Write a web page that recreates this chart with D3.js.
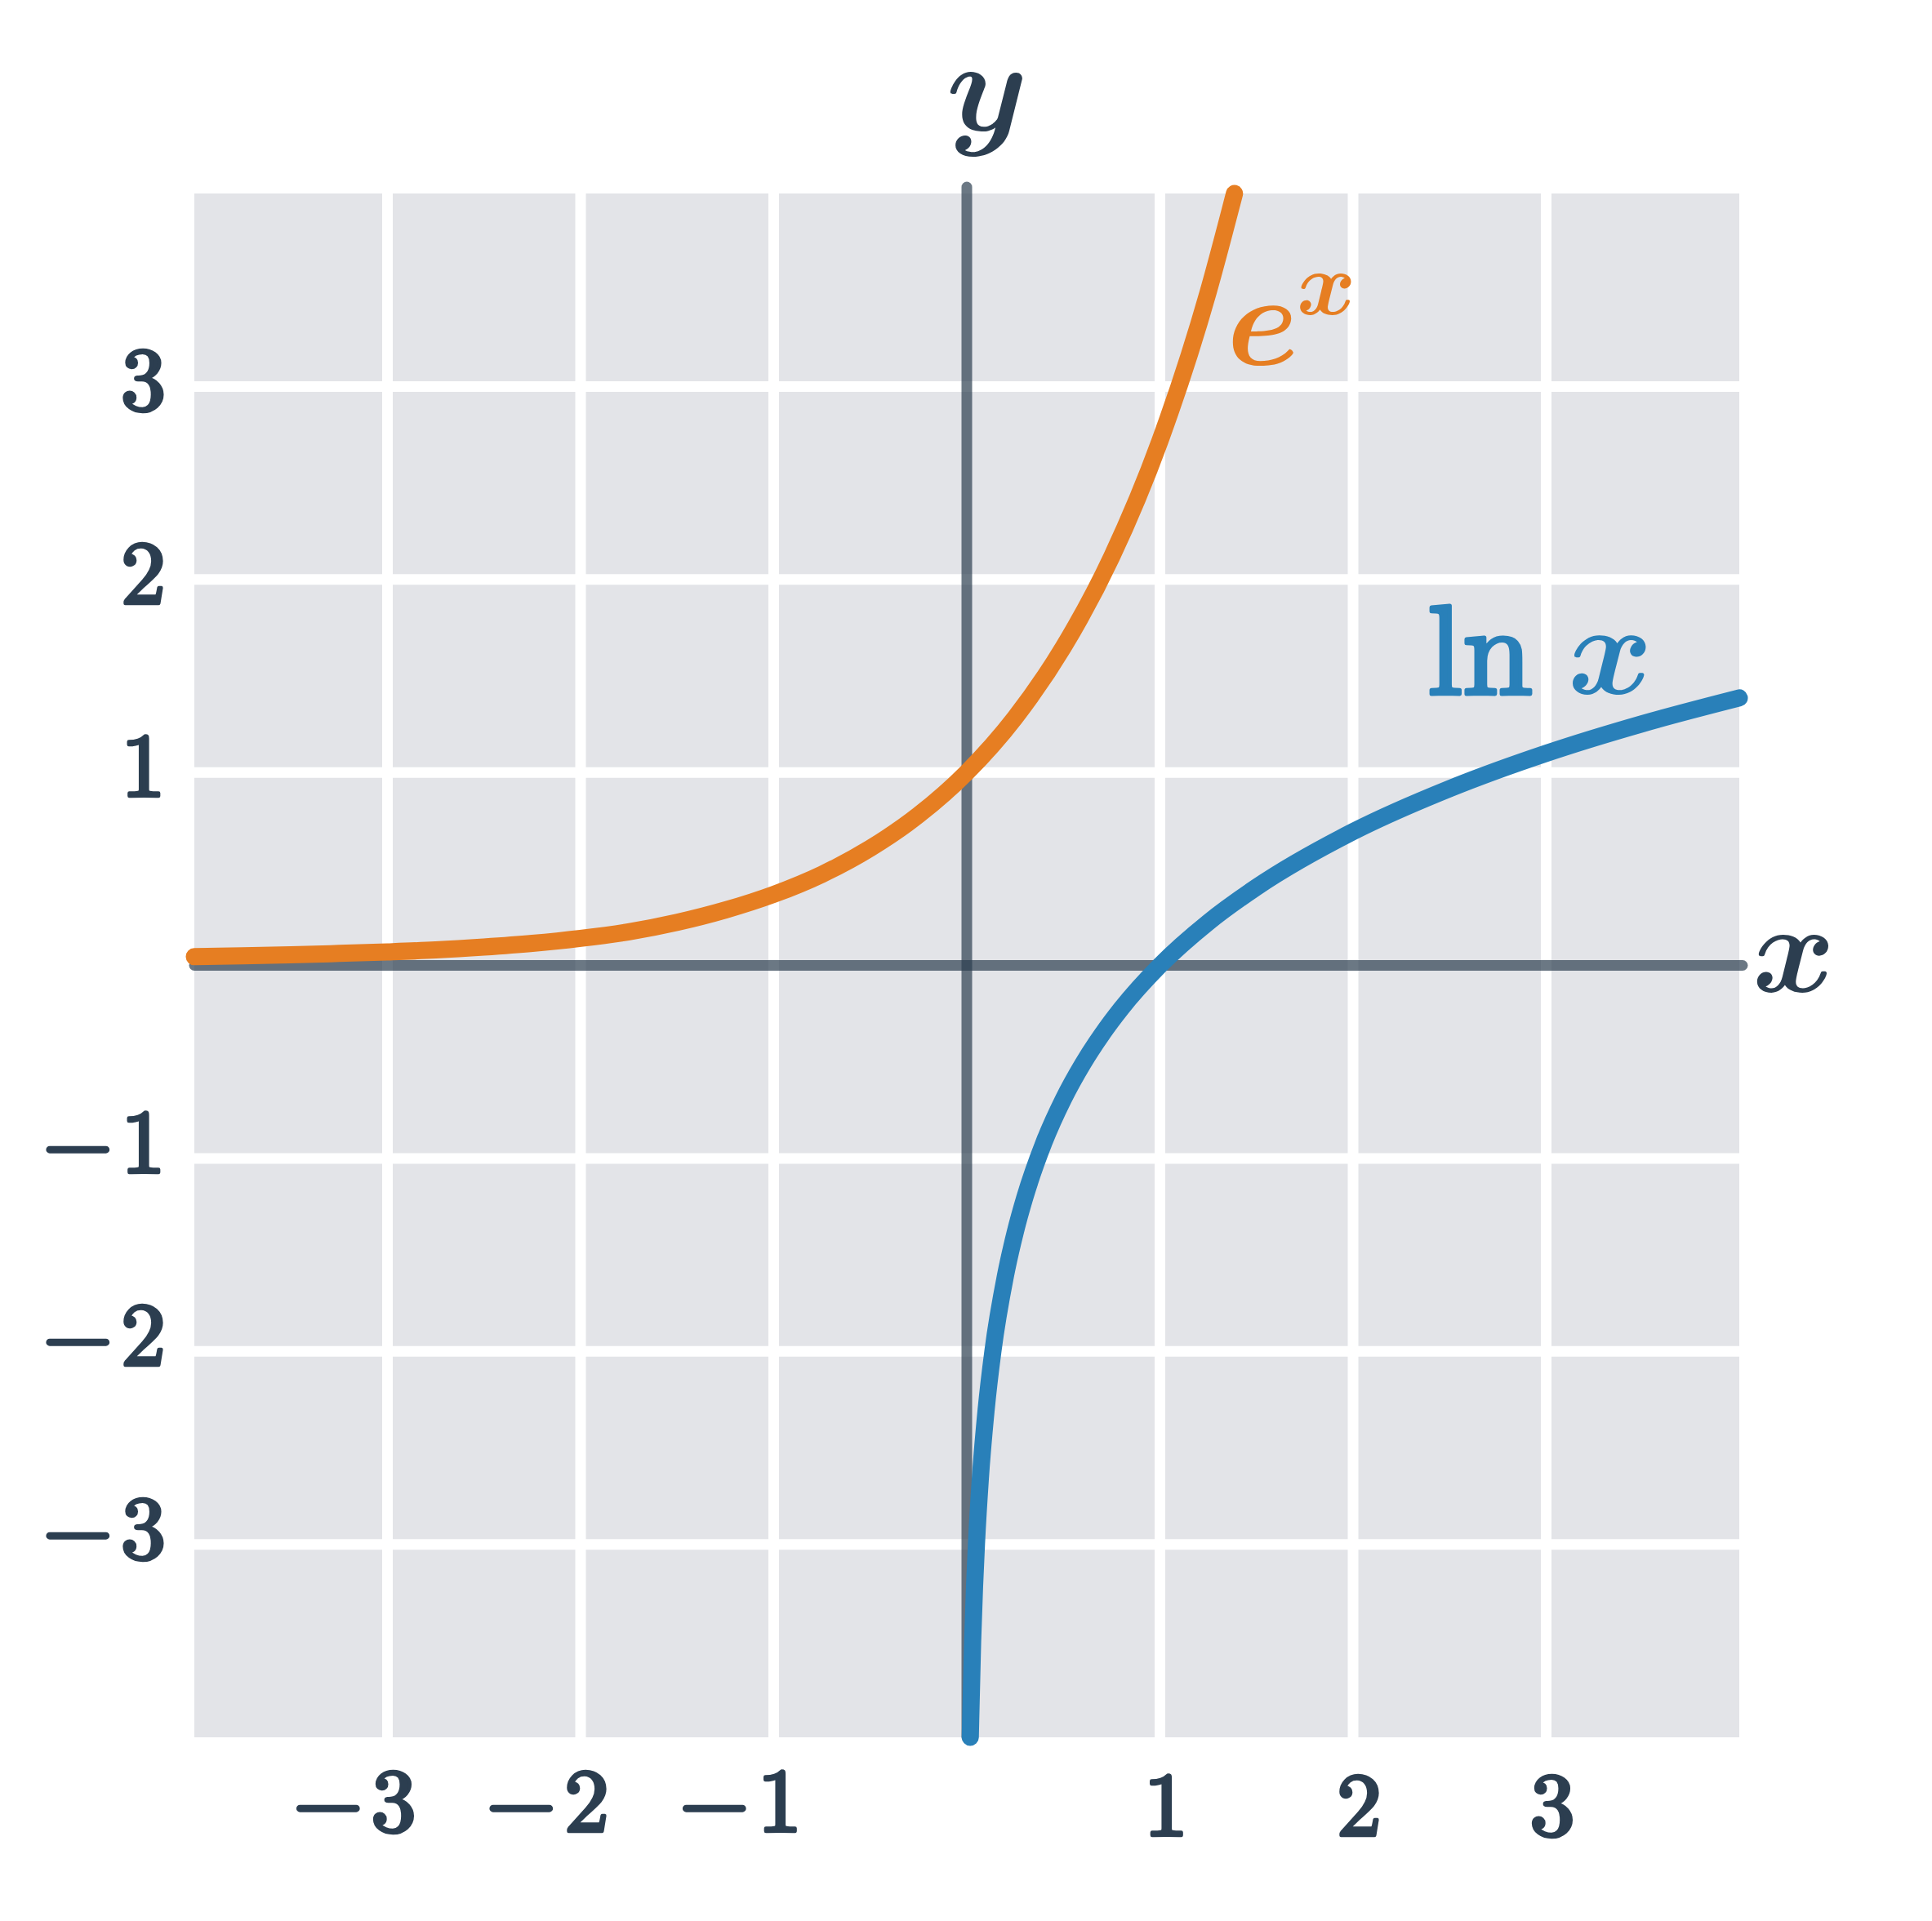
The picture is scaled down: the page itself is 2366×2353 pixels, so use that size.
<!DOCTYPE html>
<html>
<head>
<meta charset="utf-8">
<script src="https://cdn.jsdelivr.net/npm/d3@7/dist/d3.min.js"></script>
<style>
body{margin:0;background:#fff;}
svg text{font-family:"Latin Modern Math","Liberation Serif",serif;}
</style>
</head>
<body>
<svg id="chart" width="2366" height="2353"></svg>
<script>
// tick values
var xTicks = [-3,-2,-1,1,2,3];
var yTicks = [-3,-2,-1,1,2,3];

// e^x
var expX = [-4,-3.75,-3.5,-3.25,-3,-2.75,-2.5,-2.25,-2,-1.75,-1.5,-1.25,-1,-0.75,-0.5,-0.25,0,0.25,0.5,0.75,1,1.25,1.386];
var expY = [0.045,0.05,0.055,0.062,0.07,0.08,0.095,0.114,0.14,0.174,0.223,0.287,0.368,0.472,0.607,0.779,1,1.284,1.649,2.117,2.718,3.49,4];

// ln x
var lnX = [0.018,0.02,0.03,0.04,0.05,0.07,0.1,0.135,0.2,0.25,0.3,0.4,0.5,0.6,0.7,0.8,1,1.25,1.5,2,2.5,3,3.5,4];
var lnY = [-4,-3.912,-3.507,-3.219,-2.996,-2.659,-2.303,-2,-1.609,-1.386,-1.204,-0.916,-0.693,-0.511,-0.357,-0.223,0,0.223,0.405,0.693,0.916,1.099,1.253,1.386];

var ink = "#2c3e50";
var orange = "#e67e22";
var blue = "#2980b9";

var svg = d3.select("#chart");

var x = d3.scaleLinear().domain([-4,4]).range([238,2130]);
var y = d3.scaleLinear().domain([-4,4]).range([2128,237]);

svg.append("rect")
    .attr("x",x(-4))
    .attr("y",y(4))
    .attr("width",x(4)-x(-4))
    .attr("height",y(-4)-y(4))
    .attr("fill","#e3e4e8");

// white grid
svg.selectAll("line.vgrid")
    .data(xTicks)
    .enter()
     .append("line")
      .attr("class","vgrid")
      .attr("x1",function(d){return x(d);})
      .attr("x2",function(d){return x(d);})
      .attr("y1",y(4))
      .attr("y2",y(-4))
      .attr("stroke","#fff")
      .attr("stroke-width",13);

svg.selectAll("line.hgrid")
    .data(yTicks)
    .enter()
     .append("line")
      .attr("class","hgrid")
      .attr("y1",function(d){return y(d);})
      .attr("y2",function(d){return y(d);})
      .attr("x1",x(-4))
      .attr("x2",x(4))
      .attr("stroke","#fff")
      .attr("stroke-width",13);

// axes
svg.append("line")
    .attr("x1",x(-4)).attr("x2",x(4)+4)
    .attr("y1",y(0)).attr("y2",y(0))
    .attr("stroke",ink).attr("stroke-opacity",0.7)
    .attr("stroke-width",13).attr("stroke-linecap","round");

svg.append("line")
    .attr("x1",x(0)).attr("x2",x(0))
    .attr("y1",y(4)-8).attr("y2",y(-4))
    .attr("stroke",ink).attr("stroke-opacity",0.7)
    .attr("stroke-width",13).attr("stroke-linecap","round");

// curves
var line = d3.line()
    .x(function(d){return x(d[0]);})
    .y(function(d){return y(d[1]);})
    .curve(d3.curveMonotoneX);

svg.append("path")
    .attr("d",line(d3.zip(expX,expY)))
    .attr("fill","none")
    .attr("stroke",orange)
    .attr("stroke-width",21)
    .attr("stroke-linecap","round")
    .attr("stroke-linejoin","round");

svg.append("path")
    .attr("d",line(d3.zip(lnX,lnY)))
    .attr("fill","none")
    .attr("stroke",blue)
    .attr("stroke-width",21)
    .attr("stroke-linecap","round")
    .attr("stroke-linejoin","round");

// tick labels, thickened a bit with a stroke
function tickText(sel){
    sel.each(function(d){
        var t = d3.select(this);
        if(d < 0){
            t.append("tspan").text("\u2212");
            t.append("tspan").attr("dx",10).text(Math.abs(d));
        }else{
            t.append("tspan").text(d);
        }
    });
}

svg.selectAll("text.xtick")
    .data(xTicks)
    .enter()
     .append("text")
      .attr("class","xtick")
      .attr("x",function(d){return x(d)+35;})
      .attr("y",function(d){return d < 0 ? 2243 : 2248;})
      .attr("text-anchor","end")
      .attr("font-size",110)
      .attr("fill",ink)
      .attr("stroke",ink)
      .attr("stroke-width",4.5)
      .attr("stroke-linejoin","round")
      .call(tickText);

svg.selectAll("text.ytick")
    .data(yTicks)
    .enter()
     .append("text")
      .attr("class","ytick")
      .attr("x",203)
      .attr("y",function(d){return y(d) + (d < 0 ? 17 : 29);})
      .attr("text-anchor","end")
      .attr("font-size",110)
      .attr("fill",ink)
      .attr("stroke",ink)
      .attr("stroke-width",4.5)
      .attr("stroke-linejoin","round")
      .call(tickText);

// axis names (math bold italic letters)
svg.append("text")
    .attr("x",1206).attr("y",160)
    .attr("text-anchor","middle")
    .attr("font-size",160)
    .attr("fill",ink)
    .text("\u{1D49A}");

svg.append("text")
    .attr("x",2146).attr("y",1215)
    .attr("font-size",154)
    .attr("fill",ink)
    .text("\u{1D499}");

// curve labels
var eLabel = svg.append("text")
    .attr("x",1502).attr("y",447)
    .attr("font-size",160)
    .attr("fill",orange);
eLabel.append("tspan").text("\u{1D486}");
eLabel.append("tspan").attr("x",1588).attr("y",385).attr("font-size",110).text("\u{1D499}");

var lnLabel = svg.append("text")
    .attr("x",1748).attr("y",850)
    .attr("font-size",155)
    .attr("fill",blue);
lnLabel.append("tspan").attr("stroke",blue).attr("stroke-width",5).attr("stroke-linejoin","round").text("ln");
lnLabel.append("tspan").attr("x",1920).attr("font-size",158).text("\u{1D499}");
</script>
</body>
</html>
